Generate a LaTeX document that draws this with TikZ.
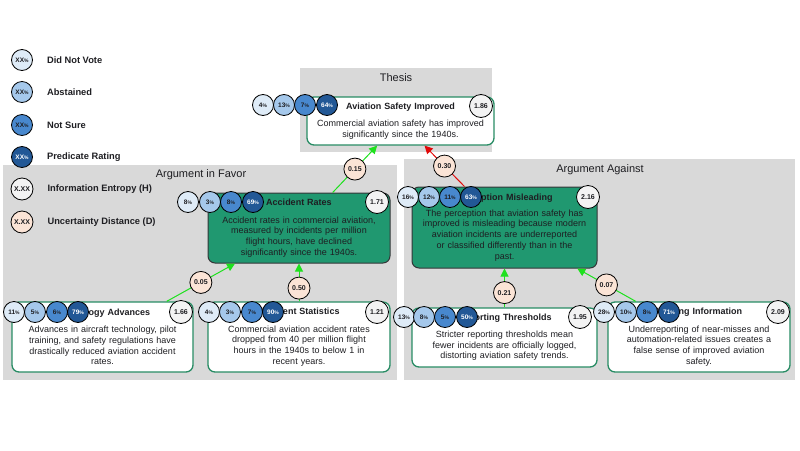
\documentclass[tikz,border=0pt]{standalone}
\usepackage{fontspec}
\setmainfont{Liberation Sans}
\definecolor{panelgray}{RGB}{217, 217, 217}
\definecolor{claimgreen}{RGB}{32, 152, 112}
\definecolor{edgegreen}{RGB}{40, 140, 100}
\definecolor{dnvblue}{RGB}{222, 235, 247}
\definecolor{absblue}{RGB}{165, 200, 235}
\definecolor{surblue}{RGB}{72, 136, 206}
\definecolor{predblue}{RGB}{34, 88, 150}
\definecolor{entgray}{RGB}{243, 243, 243}
\definecolor{uncpeach}{RGB}{251, 228, 214}
\definecolor{supgreen}{RGB}{30, 225, 30}
\definecolor{attred}{RGB}{225, 10, 10}
\definecolor{inkgray}{RGB}{30, 30, 34}
\usepackage{tikz}
\usetikzlibrary{arrows.meta, positioning}
\newcommand{\pcts}{{\fontsize{5}{5}\selectfont\%}}

\tikzset{
  paneltitle/.style={inner sep=0pt, text=inkgray, font=\fontsize{11}{13}\selectfont},
  claim/.style={draw=edgegreen, fill=white, line width=1.3pt, rounded corners=7pt, align=center,
    inner xsep=3pt, execute at end node={\rule[-0.5pt]{0pt}{0.5pt}}, text=inkgray,
    font=\fontsize{9}{10.7}\selectfont},
  subclaim/.style={claim, draw=inkgray!90, line width=1pt, fill=claimgreen},
  vote/.style={circle, draw=black, line width=0.8pt, minimum size=21pt, inner sep=0pt,
    text=inkgray, font=\fontsize{6.5}{7}\selectfont\bfseries},
  dnv/.style={vote, fill=dnvblue},
  abst/.style={vote, fill=absblue},
  notsure/.style={vote, fill=surblue},
  pred/.style={vote, fill=predblue, text=white},
  entropy/.style={vote, minimum size=23pt, fill=entgray, font=\fontsize{7}{8}\selectfont\bfseries},
  uncert/.style={vote, minimum size=22pt, fill=uncpeach, font=\fontsize{7}{8}\selectfont\bfseries},
  keytext/.style={inner sep=0pt, text=inkgray, font=\fontsize{9.3}{11}\selectfont\bfseries},
  support/.style={draw=supgreen, line width=1pt, -{Triangle[length=8pt, width=8pt]}},
  attack/.style={support, draw=attred}
}

\begin{document}
\begin{tikzpicture}[x=1pt, y=-1pt]
  \useasboundingbox (0,0) rectangle (800,450);

  % Panels
  \fill[panelgray] (300,68) rectangle (492,152);
  \fill[panelgray] (3,165) rectangle (397,380);
  \fill[panelgray] (404,159) rectangle (795,380);
  \node[paneltitle] (thesis-title) at (396,78) {Thesis};
  \node[paneltitle] (favor-title) at (201,175) {Argument in Favor};
  \node[paneltitle] (against-title) at (600,170) {Argument Against};

  % Claims
  \node[claim, minimum width=187pt, text width=181pt, minimum height=48pt] (thesis) at (400.5,121) {
    \textbf{Aviation Safety Improved}\\[7pt]
    Commercial aviation safety has improved\\
    significantly since the 1940s.};

  \node[subclaim, minimum width=182pt, text width=176pt, minimum height=70pt] (rates) at (299,228) {
    \textbf{Accident Rates}\\[7pt]
    Accident rates in commercial aviation,\\
    measured by incidents per million\\
    flight hours, have declined\\
    significantly since the 1940s.};

  \node[subclaim, minimum width=185pt, text width=179pt, minimum height=81pt] (percep) at (504.5,227.5) {
    \textbf{Perception Misleading}\\[5pt]
    The perception that aviation safety has\\
    improved is misleading because modern\\
    aviation incidents are underreported\\
    or classified differently than in the\\
    past.};

  \node[claim, minimum width=181pt, text width=175pt, minimum height=70pt] (tech) at (102.5,337) {
    \textbf{Technology Advances}\\[7pt]
    Advances in aircraft technology, pilot\\
    training, and safety regulations have\\
    drastically reduced aviation accident\\
    rates.};

  \node[claim, minimum width=182pt, text width=176pt, minimum height=70pt] (stats) at (299,337) {
    \textbf{Accident Statistics}\\[7pt]
    Commercial aviation accident rates\\
    dropped from 40 per million flight\\
    hours in the 1940s to below 1 in\\
    recent years.};

  \node[claim, minimum width=185pt, text width=179pt, minimum height=59pt] (report) at (504.5,337.5) {
    \textbf{Reporting Thresholds}\\[6pt]
    Stricter reporting thresholds mean\\
    fewer incidents are officially logged,\\
    distorting aviation safety trends.};

  \node[claim, minimum width=182pt, text width=176pt, minimum height=70pt] (missing) at (699,337) {
    \textbf{Missing Information}\\[7pt]
    Underreporting of near-misses and\\
    automation-related issues creates a\\
    false sense of improved aviation\\
    safety.};

  % Relations
  \draw[support] (rates) -- node[uncert] (d-rates) {0.15} (thesis);
  \draw[attack] (percep) -- node[uncert] (d-percep) {0.30} (thesis);
  \draw[support] (tech) -- node[uncert] (d-tech) {0.05} (rates);
  \draw[support] (stats) -- node[uncert, pos=0.35] (d-stats) {0.50} (rates);
  \draw[support] (report) -- node[uncert, pos=0.38] (d-report) {0.21} (percep);
  \draw[support] (missing) -- node[uncert] (d-missing) {0.07} (percep);

  % Votes - thesis
  \node[dnv] (thesis-v1) at (263,105) {4\pcts};
  \node[abst] (thesis-v2) at (284,105) {13\pcts};
  \node[notsure] (thesis-v3) at (305,105) {7\pcts};
  \node[pred] (thesis-v4) at (327,105) {64\pcts};
  \node[entropy] (thesis-h) at (481,106) {1.86};

  % Votes - argument in favor
  \node[dnv] (rates-v1) at (188,202) {8\pcts};
  \node[abst] (rates-v2) at (210,202) {3\pcts};
  \node[notsure] (rates-v3) at (231,202) {8\pcts};
  \node[pred] (rates-v4) at (253,202) {69\pcts};
  \node[entropy] (rates-h) at (377,202) {1.71};

  \node[dnv] (tech-v1) at (14,312) {11\pcts};
  \node[abst] (tech-v2) at (35,312) {5\pcts};
  \node[notsure] (tech-v3) at (57,312) {6\pcts};
  \node[pred] (tech-v4) at (78,312) {79\pcts};
  \node[entropy] (tech-h) at (181,312) {1.66};

  \node[dnv] (stats-v1) at (209,312) {4\pcts};
  \node[abst] (stats-v2) at (230,312) {3\pcts};
  \node[notsure] (stats-v3) at (252,312) {7\pcts};
  \node[pred] (stats-v4) at (273,312) {90\pcts};
  \node[entropy] (stats-h) at (377,312) {1.21};

  % Votes - argument against
  \node[dnv] (percep-v1) at (408,197) {16\pcts};
  \node[abst] (percep-v2) at (429,197) {12\pcts};
  \node[notsure] (percep-v3) at (450,197) {11\pcts};
  \node[pred] (percep-v4) at (471,197) {63\pcts};
  \node[entropy] (percep-h) at (588,197) {2.16};

  \node[dnv] (report-v1) at (404,317) {13\pcts};
  \node[abst] (report-v2) at (424,317) {8\pcts};
  \node[notsure] (report-v3) at (445,317) {5\pcts};
  \node[pred] (report-v4) at (467,317) {50\pcts};
  \node[entropy] (report-h) at (580,317) {1.95};

  \node[dnv] (missing-v1) at (604,312) {28\pcts};
  \node[abst] (missing-v2) at (626,312) {10\pcts};
  \node[notsure] (missing-v3) at (647,312) {8\pcts};
  \node[pred] (missing-v4) at (669,312) {71\pcts};
  \node[entropy] (missing-h) at (778,312) {2.09};

  % Legend
  \node[dnv] (key-dnv) at (22,60) {XX\pcts};
  \node[abst] (key-abst) at (22,92) {XX\pcts};
  \node[notsure] (key-sure) at (22,125) {XX\pcts};
  \node[pred] (key-pred) at (22,157) {XX\pcts};
  \node[entropy, minimum size=22pt] (key-h) at (22,189) {X.XX};
  \node[uncert] (key-d) at (22,222) {X.XX};
  \node[keytext, right=14pt of key-dnv] (key-dnv-text) {Did Not Vote};
  \node[keytext, right=14pt of key-abst] (key-abst-text) {Abstained};
  \node[keytext, right=14pt of key-sure] (key-sure-text) {Not Sure};
  \node[keytext, right=14pt of key-pred] (key-pred-text) {Predicate Rating};
  \node[keytext, right=14pt of key-h] (key-h-text) {Information Entropy (H)};
  \node[keytext, right=14pt of key-d] (key-d-text) {Uncertainty Distance (D)};
\end{tikzpicture}
\end{document}
